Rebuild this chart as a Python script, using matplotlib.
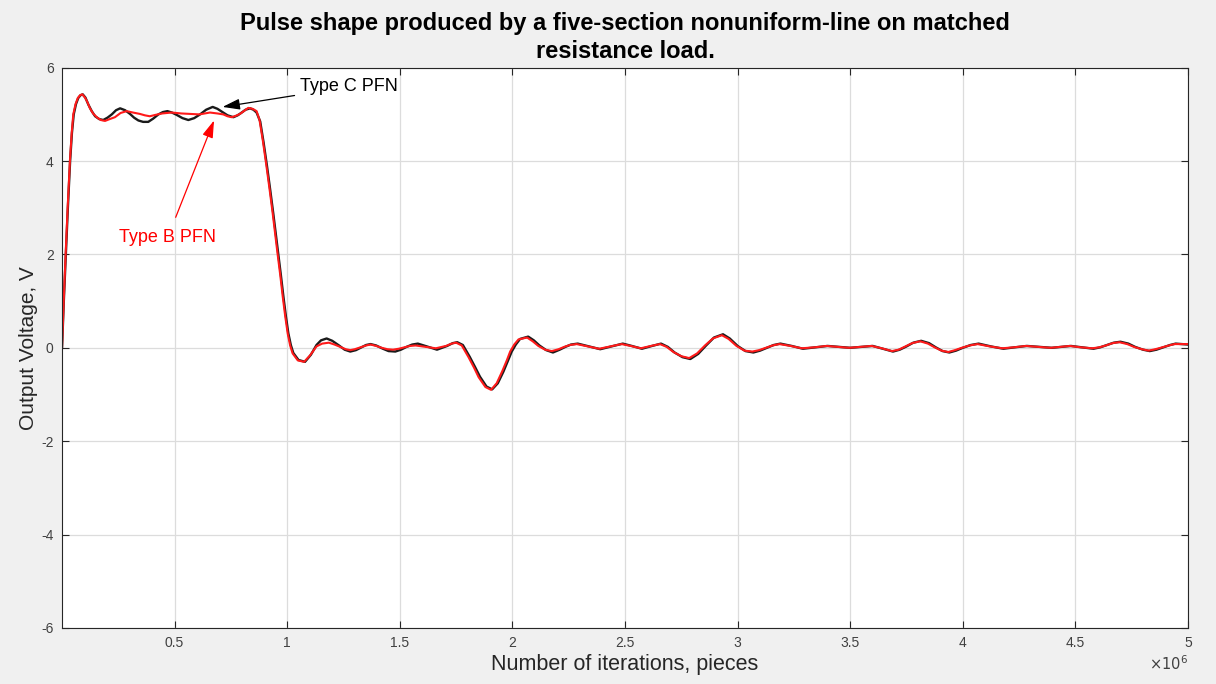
import numpy as np
import matplotlib
matplotlib.use("Agg")
import matplotlib.pyplot as plt
from matplotlib.ticker import FuncFormatter

plt.rcParams['font.family'] = ['Liberation Sans', 'DejaVu Sans']
plt.rcParams['axes.unicode_minus'] = False

# Type C PFN (black): iterations in units of 1e6, output voltage in V
x_c = [0.0, 0.008, 0.017, 0.026, 0.036, 0.044, 0.052, 0.062, 0.072, 0.082, 0.092, 0.104,
       0.117, 0.132, 0.147, 0.165, 0.183, 0.202, 0.221, 0.24, 0.258, 0.28, 0.302, 0.32,
       0.339, 0.36, 0.383, 0.405, 0.428, 0.448, 0.468, 0.488, 0.509, 0.535, 0.561, 0.587,
       0.613, 0.64, 0.669, 0.69, 0.709, 0.735, 0.761, 0.78, 0.798, 0.815, 0.835, 0.85,
       0.864, 0.88, 0.895, 0.91, 0.924, 0.938, 0.949, 0.96, 0.972, 0.983, 0.994, 1.005,
       1.016, 1.027, 1.05, 1.079, 1.105, 1.13, 1.15, 1.175, 1.2, 1.23, 1.255, 1.28, 1.305,
       1.325, 1.35, 1.37, 1.395, 1.425, 1.45, 1.48, 1.505, 1.53, 1.555, 1.58, 1.62, 1.665,
       1.71, 1.735, 1.755, 1.78, 1.81, 1.835, 1.856, 1.885, 1.91, 1.935, 1.96, 1.98, 1.997,
       2.015, 2.034, 2.07, 2.095, 2.12, 2.15, 2.18, 2.21, 2.235, 2.26, 2.29, 2.34, 2.39,
       2.44, 2.49, 2.53, 2.575, 2.62, 2.66, 2.69, 2.72, 2.755, 2.79, 2.825, 2.86, 2.895,
       2.935, 2.965, 3.0, 3.035, 3.07, 3.1, 3.13, 3.16, 3.19, 3.24, 3.29, 3.345, 3.40,
       3.45, 3.50, 3.55, 3.60, 3.645, 3.69, 3.72, 3.75, 3.78, 3.815, 3.85, 3.88, 3.91,
       3.94, 3.97, 4.0, 4.035, 4.07, 4.125, 4.18, 4.23, 4.285, 4.34, 4.395, 4.44, 4.48,
       4.53, 4.58, 4.61, 4.64, 4.67, 4.70, 4.735, 4.765, 4.80, 4.83, 4.86, 4.89, 4.92,
       4.945, 5.0]
v_c = [0.0, 1.0, 2.0, 3.0, 4.0, 4.6, 5.0, 5.22, 5.35, 5.41, 5.43, 5.36,
       5.21, 5.07, 4.96, 4.9, 4.88, 4.93, 5.0, 5.09, 5.13, 5.09, 5.01, 4.93,
       4.87, 4.84, 4.84, 4.91, 5.0, 5.05, 5.07, 5.04, 4.99, 4.92, 4.88, 4.92,
       5.0, 5.1, 5.16, 5.12, 5.06, 4.98, 4.94, 4.98, 5.04, 5.1, 5.13, 5.1,
       5.04, 4.85, 4.4, 3.9, 3.4, 2.88, 2.45, 2.01, 1.55, 1.10, 0.68, 0.31,
       0.06, -0.11, -0.26, -0.30, -0.15, 0.06, 0.16, 0.20, 0.15, 0.05, -0.04, -0.08, -0.05,
       0.0, 0.06, 0.08, 0.05, -0.02, -0.07, -0.08, -0.04, 0.02, 0.07, 0.09, 0.03, -0.04,
       0.04, 0.10, 0.12, 0.06, -0.19, -0.42, -0.62, -0.83, -0.89, -0.76, -0.51, -0.28, -0.08,
       0.07, 0.19, 0.24, 0.16, 0.05, -0.05, -0.10, -0.04, 0.02, 0.07, 0.09, 0.03, -0.03,
       0.03, 0.09, 0.04, -0.02, 0.04, 0.09, 0.02, -0.10, -0.20, -0.24, -0.13, 0.05, 0.22,
       0.29, 0.20, 0.04, -0.07, -0.10, -0.06, 0.0, 0.06, 0.09, 0.04, -0.02, 0.01, 0.04,
       0.02, 0.0, 0.02, 0.04, -0.02, -0.08, -0.04, 0.03, 0.11, 0.15, 0.10, 0.01, -0.07,
       -0.10, -0.06, 0.0, 0.06, 0.09, 0.03, -0.02, 0.01, 0.04, 0.02, 0.0, 0.02, 0.04,
       0.01, -0.02, 0.01, 0.06, 0.11, 0.13, 0.09, 0.02, -0.04, -0.07, -0.04, 0.01, 0.06,
       0.09, 0.07]

# Type B PFN (red)
x_b = [0.0, 0.008, 0.016, 0.025, 0.035, 0.043, 0.05, 0.06, 0.07, 0.08, 0.09, 0.102,
       0.113, 0.124, 0.138, 0.154, 0.172, 0.191, 0.212, 0.235, 0.26, 0.287, 0.315, 0.346,
       0.368, 0.39, 0.415, 0.445, 0.487, 0.53, 0.568, 0.61, 0.657, 0.69, 0.716, 0.735,
       0.753, 0.772, 0.79, 0.81, 0.827, 0.846, 0.864, 0.877, 0.892, 0.907, 0.921, 0.935,
       0.946, 0.957, 0.969, 0.98, 0.991, 1.002, 1.013, 1.024, 1.047, 1.075, 1.10, 1.13,
       1.155, 1.185, 1.21, 1.235, 1.26, 1.28, 1.30, 1.325, 1.35, 1.37, 1.395, 1.42, 1.445,
       1.47, 1.495, 1.52, 1.545, 1.57, 1.615, 1.66, 1.705, 1.73, 1.75, 1.775, 1.805, 1.83,
       1.85, 1.88, 1.905, 1.93, 1.955, 1.975, 1.99, 2.008, 2.027, 2.065, 2.09, 2.115, 2.145,
       2.175, 2.205, 2.23, 2.255, 2.285, 2.335, 2.385, 2.435, 2.485, 2.525, 2.57, 2.615,
       2.655, 2.685, 2.715, 2.75, 2.785, 2.82, 2.855, 2.89, 2.93, 2.96, 2.995, 3.03, 3.065,
       3.095, 3.125, 3.155, 3.185, 3.235, 3.285, 3.34, 3.395, 3.445, 3.495, 3.545, 3.595,
       3.64, 3.685, 3.715, 3.745, 3.775, 3.81, 3.845, 3.875, 3.905, 3.935, 3.965, 3.995,
       4.03, 4.065, 4.12, 4.175, 4.225, 4.28, 4.335, 4.39, 4.435, 4.475, 4.525, 4.575,
       4.605, 4.635, 4.665, 4.695, 4.73, 4.76, 4.795, 4.825, 4.855, 4.885, 4.915, 4.94, 5.0]
v_b = [0.0, 1.05, 2.0, 3.0, 4.0, 4.6, 5.0, 5.22, 5.35, 5.41, 5.43, 5.36,
       5.26, 5.13, 5.02, 4.94, 4.88, 4.86, 4.9, 4.94, 5.03, 5.07, 5.04, 5.01,
       4.98, 4.96, 4.99, 5.02, 5.04, 5.02, 5.01, 5.0, 5.04, 5.02, 5.0, 4.96,
       4.94, 4.97, 5.01, 5.08, 5.14, 5.12, 5.07, 4.88, 4.43, 3.92, 3.42, 2.9,
       2.46, 2.02, 1.56, 1.1, 0.68, 0.31, 0.05, -0.12, -0.27, -0.30, -0.17, 0.03,
       0.09, 0.11, 0.07, 0.02, -0.03, -0.05, -0.03, 0.01, 0.05, 0.07, 0.04, 0.0, -0.03,
       -0.04, -0.02, 0.01, 0.04, 0.05, 0.02, -0.01, 0.04, 0.09, 0.11, 0.05, -0.20, -0.43,
       -0.63, -0.84, -0.90, -0.76, -0.50, -0.27, -0.08, 0.07, 0.18, 0.22, 0.14, 0.04, -0.04,
       -0.07, -0.03, 0.02, 0.06, 0.08, 0.03, -0.02, 0.03, 0.08, 0.04, -0.01, 0.04,
       0.08, 0.02, -0.09, -0.18, -0.22, -0.12, 0.05, 0.20, 0.27, 0.19, 0.04, -0.06, -0.08,
       -0.05, 0.0, 0.05, 0.08, 0.04, -0.01, 0.01, 0.04, 0.02, 0.0, 0.02, 0.04,
       -0.01, -0.07, -0.04, 0.03, 0.10, 0.14, 0.09, 0.01, -0.06, -0.09, -0.05, 0.0,
       0.05, 0.08, 0.03, -0.01, 0.01, 0.04, 0.02, 0.0, 0.02, 0.04, 0.01, -0.01,
       0.01, 0.05, 0.10, 0.12, 0.08, 0.02, -0.03, -0.06, -0.03, 0.01, 0.05, 0.08, 0.08]

x_ticks = [0.5, 1, 1.5, 2, 2.5, 3, 3.5, 4, 4.5, 5]
y_ticks = [-6, -4, -2, 0, 2, 4, 6]

scale = 1e6
fig = plt.figure(figsize=(12.16, 6.84), dpi=100, facecolor='#f0f0f0')
ax = fig.add_axes([0.051, 0.082, 0.926, 0.819])

ax.plot(np.array(x_c) * scale, v_c, color='#1a1a1a', lw=1.7, solid_joinstyle='round')
ax.plot(np.array(x_b) * scale, v_b, color='#ff1a1a', lw=1.5, solid_joinstyle='round')

ax.set_xlim(0, 5 * scale)
ax.set_ylim(-6, 6)
ax.set_xticks(np.array(x_ticks) * scale)
ax.set_yticks(y_ticks)
ax.xaxis.set_major_formatter(FuncFormatter(lambda v, p: '%g' % (v / scale)))
ax.text(1.0, -0.063, r'$\times10^{6}$', transform=ax.transAxes, ha='right', va='center',
        fontsize=10.5, color='#404040')

ax.grid(True, color='#dcdcdc', lw=0.9)
ax.set_axisbelow(True)
ax.tick_params(direction='in', top=True, right=True, length=5, width=0.8,
               labelsize=10, labelcolor='#404040', color='#262626', pad=6)
for s in ax.spines.values():
    s.set_color('#262626')
    s.set_linewidth(0.8)

ax.set_xlabel('Number of iterations, pieces', fontsize=15.5, color='#262626', labelpad=3)
ax.set_ylabel('Output Voltage, V', fontsize=15, color='#262626', labelpad=2)
ax.set_title('Pulse shape produced by a five-section nonuniform-line on matched\nresistance load.',
             fontsize=17, fontweight='bold', color='#000000', pad=7, linespacing=1.25)

ax.annotate('Type C PFN', xy=(0.713 * scale, 5.16), xytext=(1.057 * scale, 5.59),
            fontsize=13, color='#000000', va='center', ha='left',
            arrowprops=dict(arrowstyle='-|>,head_length=0.7,head_width=0.22', color='#000000',
                            lw=0.9, mutation_scale=15, shrinkA=2, shrinkB=0))
ax.annotate('Type B PFN', xy=(0.675 * scale, 4.87), xytext=(0.469 * scale, 2.36),
            fontsize=13, color='#ff0000', va='center', ha='center',
            arrowprops=dict(arrowstyle='-|>,head_length=0.7,head_width=0.22', color='#ff0000',
                            lw=0.9, mutation_scale=15, shrinkA=7, shrinkB=0))

fig.savefig('out.png', dpi=100, facecolor=fig.get_facecolor())
